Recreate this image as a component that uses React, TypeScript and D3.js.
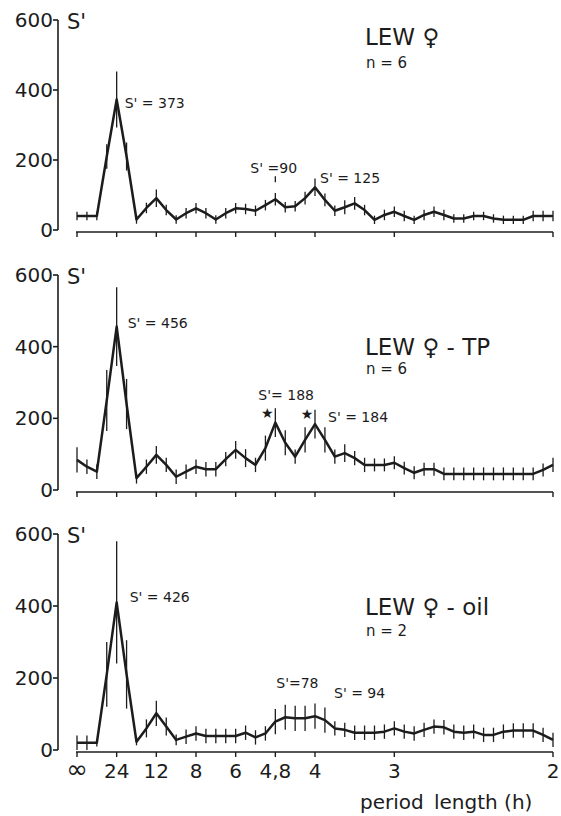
import React from "react";
import * as d3 from "d3";

// harmonic positions on the frequency axis (24 h / k), 4 points per harmonic
const tickHarmonics = [0, 1, 2, 3, 4, 5, 6, 8, 12];
const tickLabels = ["∞", "24", "12", "8", "6", "4,8", "4", "3", "2"];
const yTicks = [0, 200, 400, 600];

const lewValues = [
  40, 40, 40, 210, 373, 210, 30, 63, 91, 57,
  30, 48, 62, 48, 30, 48, 62, 60, 55, 71,
  88, 65, 68, 91, 122, 86, 55, 65, 76, 57,
  29, 43, 52, 40, 29, 43, 52, 43, 33, 33,
  40, 40, 33, 29, 29, 29, 40, 40, 40,
];
const lewSE = [
  12, 12, 12, 35, 80, 40, 12, 15, 25, 15,
  12, 15, 15, 15, 12, 15, 15, 15, 15, 15,
  18, 15, 15, 18, 25, 18, 15, 20, 18, 15,
  12, 15, 15, 15, 12, 15, 15, 15, 12, 12,
  12, 12, 12, 12, 12, 12, 15, 15, 15,
];

const tpValues = [
  84, 65, 51, 250, 456, 240, 33, 65, 98, 70,
  37, 51, 65, 58, 58, 86, 112, 89, 70, 117,
  188, 132, 93, 140, 184, 140, 93, 103, 89, 70,
  70, 70, 76, 61, 48, 58, 58, 45, 45, 45,
  45, 45, 45, 45, 45, 45, 45, 56, 70,
];
const tpSE = [
  35, 20, 20, 85, 110, 70, 15, 20, 25, 20,
  20, 20, 20, 20, 20, 20, 25, 25, 20, 35,
  40, 35, 20, 35, 40, 35, 20, 25, 20, 20,
  18, 18, 18, 18, 18, 18, 18, 18, 18, 18,
  18, 18, 18, 18, 18, 18, 18, 18, 20,
];

const oilValues = [
  20, 20, 20, 210, 410, 210, 23, 60, 102, 65,
  28, 37, 46, 39, 39, 39, 39, 48, 35, 46,
  79, 91, 88, 88, 94, 83, 60, 56, 48, 48,
  48, 51, 60, 51, 46, 56, 65, 63, 51, 48,
  51, 42, 42, 51, 54, 54, 54, 42, 28,
];
const oilSE = [
  20, 20, 10, 90, 170, 95, 10, 25, 35, 25,
  15, 20, 20, 20, 20, 20, 20, 20, 20, 20,
  35, 35, 35, 35, 35, 35, 20, 20, 20, 20,
  20, 20, 20, 20, 20, 20, 20, 20, 20, 20,
  20, 20, 20, 20, 20, 20, 20, 20, 20,
];

type Note = { text: string; i: number; dx: number; dy: number };

const panels = [
  {
    title: "LEW ♀", n: "n =  6", values: lewValues, se: lewSE,
    y0: 230, y600: 20, titleY: 45, nY: 68,
    notes: [
      { text: "S' = 373", i: 4, dx: 8, dy: 9 },
      { text: "S' =90", i: 20, dx: -25, dy: -26 },
      { text: "S' = 125", i: 24, dx: 5, dy: -4 },
    ] as Note[],
    stars: [] as number[], marks: [20],
  },
  {
    title: "LEW ♀ - TP", n: "n = 6", values: tpValues, se: tpSE,
    y0: 490, y600: 275, titleY: 355, nY: 374,
    notes: [
      { text: "S' = 456", i: 4, dx: 11, dy: 1 },
      { text: "S'= 188", i: 20, dx: -17, dy: -23 },
      { text: "S' = 184", i: 24, dx: 13, dy: -2 },
    ] as Note[],
    stars: [20, 24], marks: [] as number[],
  },
  {
    title: "LEW ♀ - oil", n: "n = 2", values: oilValues, se: oilSE,
    y0: 750, y600: 534, titleY: 615, nY: 636,
    notes: [
      { text: "S' =  426", i: 4, dx: 13, dy: 0 },
      { text: "S'=78", i: 21, dx: -9, dy: -29 },
      { text: "S' = 94", i: 24, dx: 19, dy: -18 },
    ] as Note[],
    stars: [] as number[], marks: [] as number[],
  },
];

const ink = "#1c1c1c";
const font = "'DejaVu Sans', sans-serif";

export default function App() {
  const x = d3.scaleLinear().domain([0, 12]).range([77, 553]);
  const axisX = 58;

  return (
    <div style={{ position: "fixed", left: 0, top: 0, background: "#fff" }}>
      <svg width={561} height={816} style={{ display: "block" }} xmlSpace="preserve">
        <rect width={561} height={816} fill="#fff" />
        {panels.map((p, pi) => {
          const y = d3.scaleLinear().domain([0, 600]).range([p.y0, p.y600]);
          const px = (i: number) => x(i / 4);
          const line = d3
            .line<number>()
            .x((_, i) => px(i))
            .y((d) => y(d));
          const last = pi === panels.length - 1;
          return (
            <g key={pi} fontFamily={font} fill={ink}>
              {/* y axis */}
              <line x1={axisX} x2={axisX} y1={y(0)} y2={y(600)} stroke={ink} strokeWidth={1.6} />
              {yTicks.map((t) => (
                <g key={t}>
                  <line x1={axisX - 5} x2={axisX} y1={y(t)} y2={y(t)} stroke={ink} strokeWidth={1.6} />
                  <text x={axisX - 5} y={y(t) + 7} fontSize={20} textAnchor="end">
                    {t}
                  </text>
                </g>
              ))}
              <text x={axisX + 9} y={y(600) + 9} fontSize={21}>S'</text>
              {/* x axis */}
              <line x1={x(0) - 1} x2={x(12)} y1={y(0) + 2} y2={y(0) + 2} stroke={ink} strokeWidth={1.6} />
              {tickHarmonics.map((h, k) => (
                <g key={h}>
                  <line x1={x(h)} x2={x(h)} y1={y(0) + 2} y2={y(0) + 7} stroke={ink} strokeWidth={1.4} />
                  {last && (
                    <text
                      x={x(h)}
                      y={y(0) + 28}
                      fontSize={tickLabels[k] === "∞" ? 26 : 20}
                      textAnchor="middle"
                    >
                      {tickLabels[k]}
                    </text>
                  )}
                </g>
              ))}
              {/* error bars */}
              {p.values.map((v, i) => (
                <line
                  key={i}
                  x1={px(i)}
                  x2={px(i)}
                  y1={y(Math.max(0, v - p.se[i]))}
                  y2={y(v + p.se[i])}
                  stroke={ink}
                  strokeWidth={1.3}
                />
              ))}
              <path d={line(p.values) || ""} fill="none" stroke={ink} strokeWidth={2.5} strokeLinejoin="round" />
              {/* annotations */}
              {p.notes.map((nt, k) => (
                <text key={k} x={px(nt.i) + nt.dx} y={y(p.values[nt.i]) + nt.dy} fontSize={14}>
                  {nt.text}
                </text>
              ))}
              {p.stars.map((s) => (
                <text key={s} x={px(s) - 8} y={y(p.values[s]) - 5} fontSize={14} textAnchor="middle">
                  ★
                </text>
              ))}
              {p.marks.map((m) => (
                <line key={m} x1={px(m)} x2={px(m)} y1={y(p.values[m]) - 23} y2={y(p.values[m]) - 17} stroke={ink} strokeWidth={1.3} />
              ))}
              <text x={365} y={p.titleY} fontSize={23}>{p.title}</text>
              <text x={366} y={p.nY} fontSize={15}>{p.n}</text>
            </g>
          );
        })}
        <text x={360} y={809} fontSize={20} fontFamily={font} fill={ink}>
          period
        </text>
        <text x={434} y={809} fontSize={20} fontFamily={font} fill={ink}>
          length (h)
        </text>
      </svg>
    </div>
  );
}
